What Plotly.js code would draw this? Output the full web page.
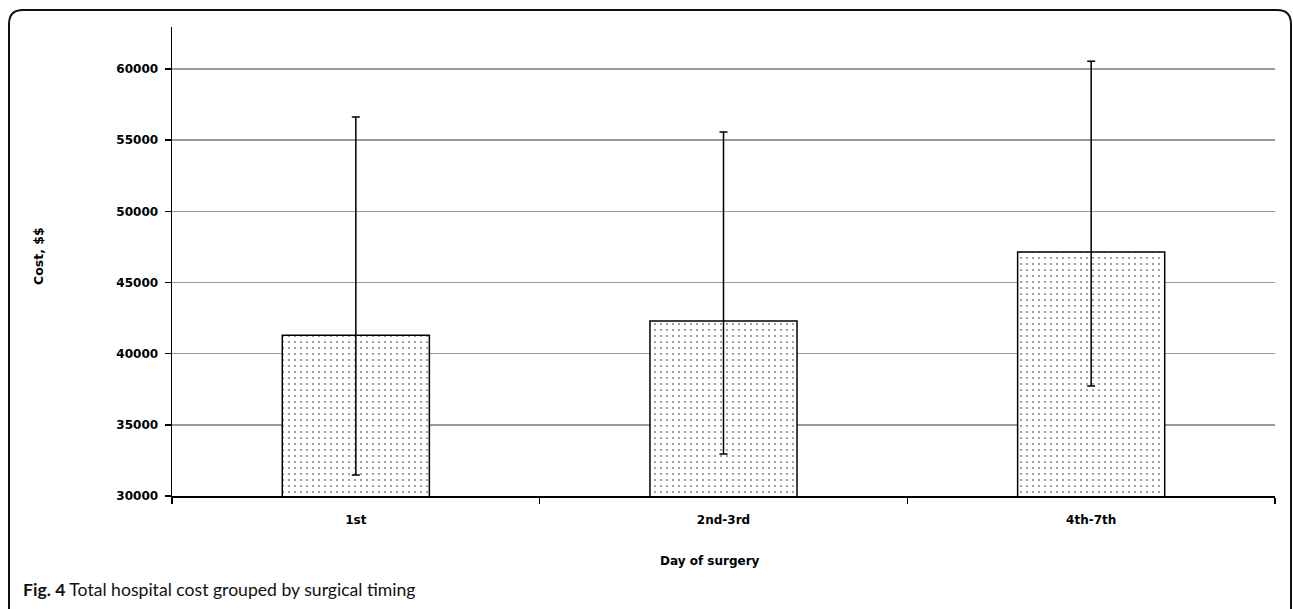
<!DOCTYPE html>
<html>
<head>
<meta charset="utf-8">
<script src="https://cdn.plot.ly/plotly-3.0.1.min.js"></script>
<style>
  html, body { margin: 0; padding: 0; background: #fff; }
  #chart { width: 1293px; height: 609px; }
</style>
</head>
<body>
<div id="chart"></div>
<script>
// ---- data ----
const categories = ["1st", "2nd-3rd", "4th-7th"];
const meanCost   = [41300, 42300, 47150];
const upperCost  = [56630, 55570, 60540];
const lowerCost  = [31480, 32950, 37730];
const yTicks     = [30000, 35000, 40000, 45000, 50000, 55000, 60000];

const errPlus  = upperCost.map((u, i) => u - meanCost[i]);
const errMinus = meanCost.map((m, i) => m - lowerCost[i]);

// plot-area geometry (pixels) used for paper-coordinate decorations
const W = 1293, H = 609;
const L = 172, R = 18, T = 27, B = 113;
const pw = W - L - R, ph = H - T - B;
const px = x => (x - L) / pw;
const py = y => (H - B - y) / ph;

function roundedFrame(x0, y0, x1, y1, r) {
  const P = (x, y) => px(x).toFixed(5) + "," + py(y).toFixed(5);
  return "M" + P(x0 + r, y0) + " L" + P(x1 - r, y0) +
         " Q" + P(x1, y0) + " " + P(x1, y0 + r) +
         " L" + P(x1, y1 - r) +
         " Q" + P(x1, y1) + " " + P(x1 - r, y1) +
         " L" + P(x0 + r, y1) +
         " Q" + P(x0, y1) + " " + P(x0, y1 - r) +
         " L" + P(x0, y0 + r) +
         " Q" + P(x0, y0) + " " + P(x0 + r, y0) + " Z";
}

const trace = {
  type: "bar",
  x: categories,
  y: meanCost,
  width: 0.4,
  marker: {
    color: "#ffffff",
    line: { color: "#000000", width: 1.5 },
    pattern: { shape: ".", size: 6, solidity: 0.1, fgcolor: "#111111", bgcolor: "#ffffff", fillmode: "overlay" }
  },
  error_y: {
    type: "data",
    symmetric: false,
    array: errPlus,
    arrayminus: errMinus,
    color: "#000000",
    thickness: 1.5,
    width: 4
  },
  hoverinfo: "skip"
};

const layout = {
  width: W, height: H,
  margin: { l: L, r: R, t: T, b: B },
  paper_bgcolor: "#ffffff",
  plot_bgcolor: "#ffffff",
  showlegend: false,
  xaxis: {
    type: "category",
    range: [-0.5, 2.5],
    showline: true, linecolor: "#000", linewidth: 1.5,
    ticks: "outside", tickson: "boundaries", ticklen: 6, tickcolor: "#000", tickwidth: 1.5,
    showgrid: false, zeroline: false,
    tickfont: { family: "DejaVu Sans", size: 12, color: "#000", weight: "bold" },
    ticklabelstandoff: 12,
    fixedrange: true
  },
  yaxis: {
    range: [30000, 62950],
    tickvals: yTicks,
    ticktext: yTicks.map(String),
    showline: true, linecolor: "#000", linewidth: 1.5,
    ticks: "outside", ticklen: 6, tickcolor: "#000", tickwidth: 1.5,
    showgrid: true, gridcolor: "#9a9a9a", gridwidth: 1.5,
    zeroline: false,
    tickfont: { family: "DejaVu Sans", size: 12, color: "#000", weight: "bold" },
    ticklabelstandoff: 4,
    fixedrange: true
  },
  annotations: [
    {
      text: "<b>Cost, $$</b>", textangle: -90,
      xref: "paper", yref: "paper", x: px(38), y: py(256),
      xanchor: "center", yanchor: "middle", showarrow: false,
      font: { family: "DejaVu Sans", size: 12.5, color: "#000" }
    },
    {
      text: "<b>Day of surgery</b>",
      xref: "paper", yref: "paper", x: px(710), y: py(561),
      xanchor: "center", yanchor: "middle", showarrow: false,
      font: { family: "DejaVu Sans", size: 12, color: "#000" }
    },
    {
      text: "<b>Fig. 4</b> Total hospital cost grouped by surgical timing",
      xref: "paper", yref: "paper", x: px(21), y: py(589),
      xanchor: "left", yanchor: "middle", showarrow: false,
      font: { family: "Lato", size: 17.6, color: "#111" }
    }
  ],
  shapes: [
    {
      type: "path", xref: "paper", yref: "paper",
      path: roundedFrame(9, 10, 1291, 660, 14),
      line: { color: "#111", width: 2 },
      fillcolor: "rgba(0,0,0,0)",
      layer: "above"
    }
  ]
};

Plotly.newPlot("chart", [trace], layout, { displayModeBar: false, staticPlot: true });
</script>
</body>
</html>
